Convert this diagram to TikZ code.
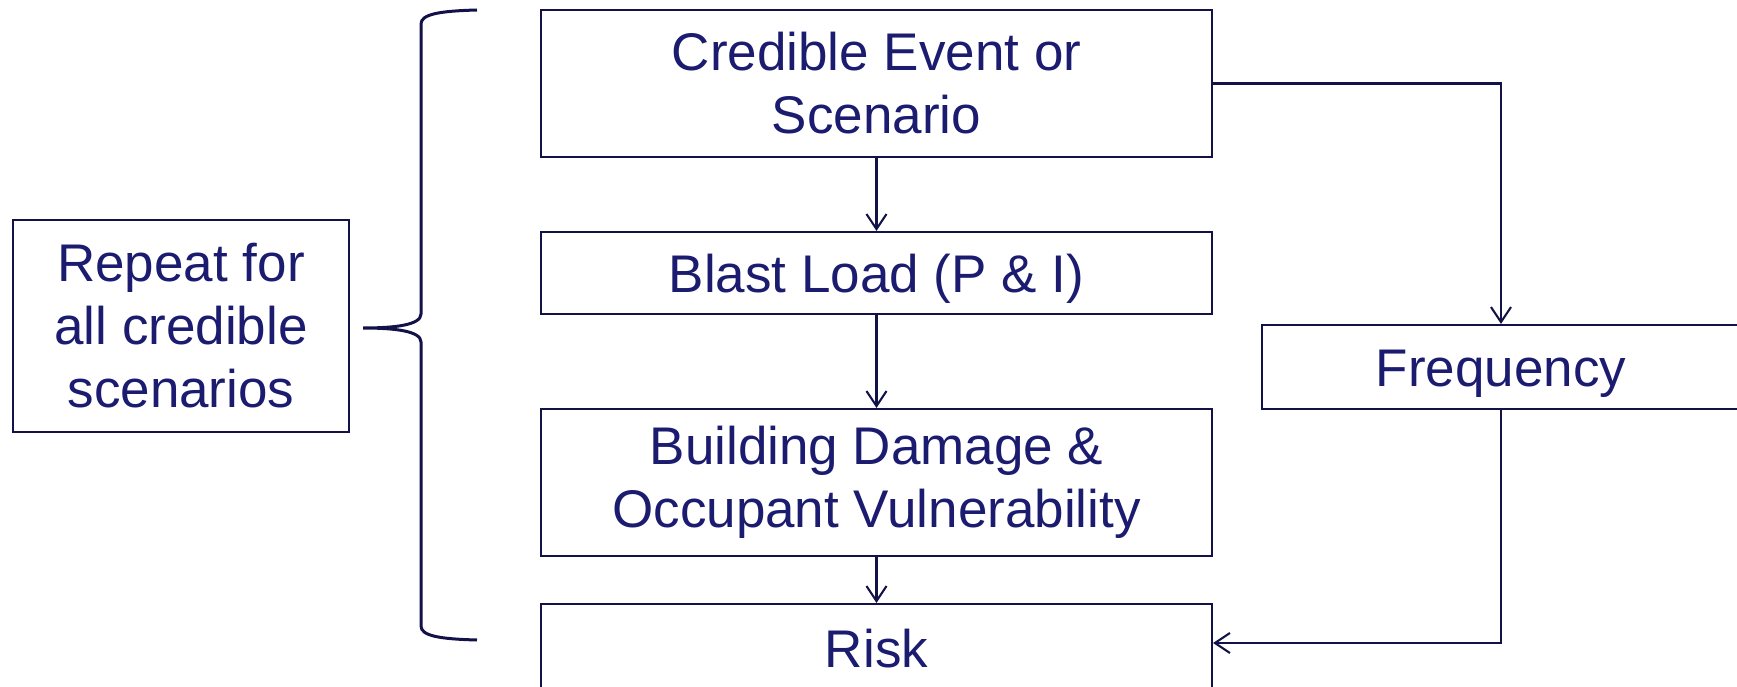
\documentclass[tikz,border=0pt]{standalone}
\usepackage{fontspec}
\setmainfont{Liberation Sans}
\usetikzlibrary{arrows.meta}
\definecolor{txtnavy}{RGB}{27,27,112}
\definecolor{linenavy}{RGB}{18,18,72}
\begin{document}
\begin{tikzpicture}[x=1pt,y=-1pt,
  box/.style={draw=linenavy,line width=2.1pt,inner sep=0pt,align=center,
    text=txtnavy,font=\fontsize{53}{63}\selectfont},
  one/.style={text height=38pt,text depth=0pt},
  conn/.style={draw=linenavy,line width=2.1pt},
  arr/.style={conn,-{Straight Barb[length=15pt,width=20pt,line width=2.1pt]}}]
\useasboundingbox (0,0) rectangle (1737,687);
\node[box,minimum width=671pt,minimum height=147pt] (b1) at (876.5,83.5) {Credible Event or\\Scenario};
\node[box,one,minimum width=671pt,minimum height=82pt] (b2) at (876.5,273) {Blast Load (P \& I)};
\node[box,minimum width=671pt,minimum height=147pt] (b3) at (876.5,482.5) {Building Damage \&\\Occupant Vulnerability};
\node[box,text height=38pt,text depth=42pt,minimum width=671pt,minimum height=130pt] (b4) at (876.5,669) {Risk};
\node[box,one,minimum width=478pt,minimum height=84pt] (freq) at (1501,367) {Frequency};
\node[box,minimum width=336pt,minimum height=212pt] (rep) at (181,326) {Repeat for\\all credible\\scenarios};
\draw[arr] (b1.south) -- (b2.north);
\draw[arr] (b2.south) -- (b3.north);
\draw[arr] (b3.south) -- (b4.north);
\draw[arr] (b1.east) -| (freq.north);
\draw[arr] (freq.south) |- ([yshift=26pt]b4.east);
\coordinate (bt) at (477,10);
\coordinate (bb) at (477,640);
\coordinate (tip) at (363,328);
\draw[linenavy,line width=3pt]
  (bt) .. controls (440,11) and (421,14) .. (421,24)
  -- (421,314) .. controls (421,325) and (395,328) .. (tip)
  .. controls (395,328) and (421,331) .. (421,342)
  -- (421,626) .. controls (421,636) and (440,639) .. (bb);
\end{tikzpicture}
\end{document}
